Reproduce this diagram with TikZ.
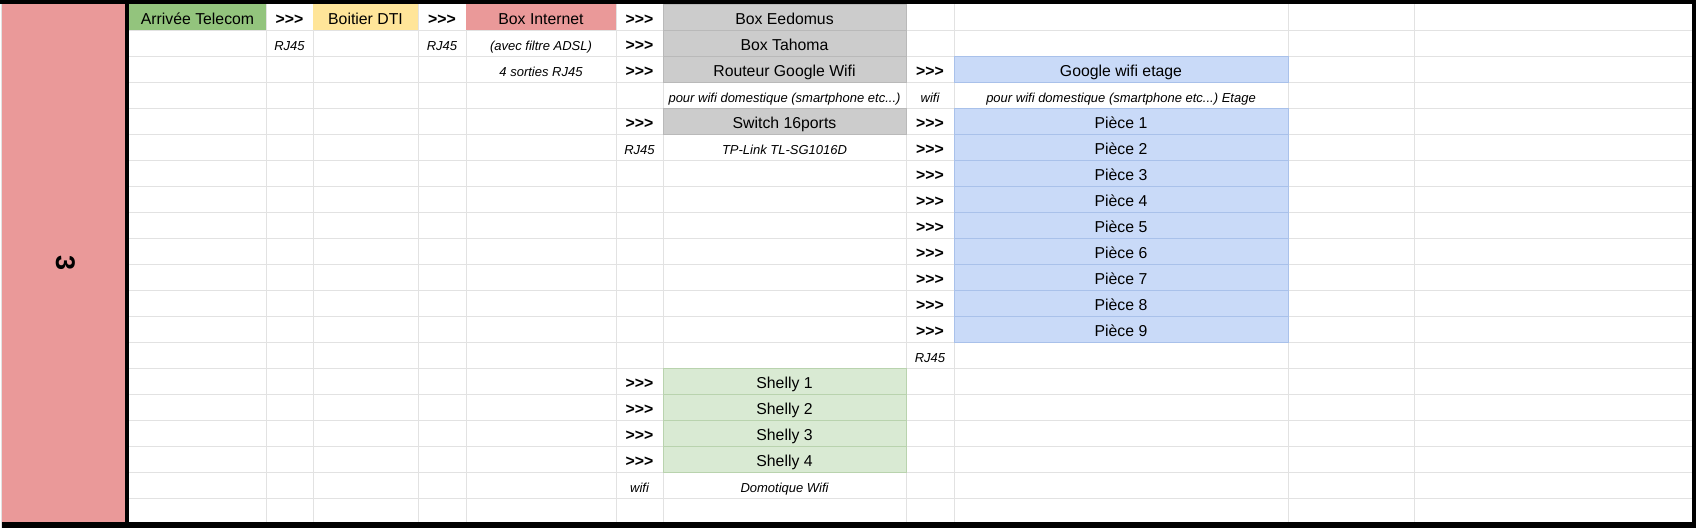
\documentclass[tikz,border=0pt]{standalone}
\usepackage{fontspec}
\setmainfont{Liberation Sans}

\definecolor{gridc}{HTML}{E2E2E2}
\definecolor{greenA}{HTML}{93C47D}
\definecolor{yellowA}{HTML}{FFE599}
\definecolor{pinkA}{HTML}{EA9999}
\definecolor{grayA}{HTML}{CCCCCC}
\definecolor{grayB}{HTML}{B9B9B9}
\definecolor{blueA}{HTML}{C9DAF8}
\definecolor{blueB}{HTML}{A9C1EA}
\definecolor{greenB}{HTML}{D9EAD3}
\definecolor{greenC}{HTML}{B9D3AE}

% three chevrons, kept apart so that >> is not turned into a guillemet
\newcommand{\fwd}{>\kern0pt>\kern0pt>}

\tikzstyle{cell}=[rectangle, inner sep=0pt, outer sep=0pt, minimum height=26pt,
  text height=15pt, text depth=1pt, font=\fontsize{15.8pt}{18pt}\selectfont]
\tikzstyle{chev}=[cell, font=\fontsize{15.8pt}{18pt}\selectfont\bfseries]
\tikzstyle{note}=[cell, text height=15.5pt, text depth=0.5pt,
  font=\fontsize{13pt}{15pt}\selectfont\itshape]
\tikzstyle{grey cell}=[cell, fill=grayA, draw=grayB, minimum width=243pt]
\tikzstyle{blue cell}=[cell, fill=blueA, draw=blueB, minimum width=334pt]
\tikzstyle{shelly cell}=[cell, fill=greenB, draw=greenC, minimum width=243pt]
\tikzstyle{grid line}=[draw=gridc, line width=1pt]

\begin{document}
\begin{tikzpicture}[x=1pt, y=-1pt]
    \useasboundingbox (0,0) rectangle (1696,528);
    % grid
    \foreach \x in {266,313,418,466,616,663,906,954,1288,1414}
      \draw[grid line] (\x,4) -- (\x,522);
    \foreach \k in {1,...,19}
      \draw[grid line] (129,{4+26*\k}) -- (1692,{4+26*\k});
    \draw[grid line] (1,0) -- (1,528);

    % merged first column
    \node[fill=pinkA, inner sep=0pt, minimum width=123pt, minimum height=518pt] (a1) at (63.5,263) {};
    \node[rotate=-90, inner sep=0pt, font=\fontsize{27pt}{30pt}\selectfont\bfseries] (a1t) at (65.5,263) {3};

    % row 1
    \node[cell, fill=greenA, minimum width=137pt] (b1) at (197.5,17) {Arrivée Telecom};
    \node[chev] (c1) at (289.5,17) {\fwd};
    \node[cell, fill=yellowA, minimum width=105pt] (d1) at (365.5,17) {Boitier DTI};
    \node[chev] (e1) at (442,17) {\fwd};
    \node[cell, fill=pinkA, minimum width=150pt] (f1) at (541,17) {Box Internet};
    \node[chev] (g1) at (639.5,17) {\fwd};
    \node[grey cell] (h1) at (784.5,17) {Box Eedomus};

    % row 2
    \node[note] (c2) at (289.5,43) {RJ45};
    \node[note] (e2) at (442,43) {RJ45};
    \node[note] (f2) at (541,43) {(avec filtre ADSL)};
    \node[chev] (g2) at (639.5,43) {\fwd};
    \node[grey cell] (h2) at (784.5,43) {Box Tahoma};

    % row 3
    \node[note] (f3) at (541,69) {4 sorties RJ45};
    \node[chev] (g3) at (639.5,69) {\fwd};
    \node[grey cell] (h3) at (784.5,69) {Routeur Google Wifi};
    \node[chev] (i3) at (930,69) {\fwd};
    \node[blue cell] (j3) at (1121,69) {Google wifi etage};

    % row 4
    \node[note] (h4) at (784.5,95) {pour wifi domestique (smartphone etc...)};
    \node[note] (i4) at (930,95) {wifi};
    \node[note] (j4) at (1121,95) {pour wifi domestique (smartphone etc...)\ Etage};

    % switch
    \node[chev] (g5) at (639.5,121) {\fwd};
    \node[grey cell] (h5) at (784.5,121) {Switch 16ports};
    \node[note] (g6) at (639.5,147) {RJ45};
    \node[note] (h6) at (784.5,147) {TP-Link TL-SG1016D};

    % rooms
    \foreach \k [evaluate=\k as \y using 26*(\k+4)-9] in {1,...,9}{
      \node[chev] (q\k) at (930,\y) {\fwd};
      \node[blue cell] (p\k) at (1121,\y) {Pièce \k};
    }
    \node[note] (i14) at (930,355) {RJ45};

    % shelly
    \foreach \k [evaluate=\k as \y using 26*(\k+14)-9] in {1,...,4}{
      \node[chev] (t\k) at (639.5,\y) {\fwd};
      \node[shelly cell] (s\k) at (784.5,\y) {Shelly \k};
    }
    \node[note] (g19) at (639.5,485) {wifi};
    \node[note] (h19) at (784.5,485) {Domotique Wifi};

    % thick borders
    \fill[black] (0,0) rectangle (1696,4);
    \fill[black] (2,522) rectangle (1696,528);
    \fill[black] (1692,0) rectangle (1696,528);
    \fill[black] (125,0) rectangle (129,528);
\end{tikzpicture}
\end{document}
